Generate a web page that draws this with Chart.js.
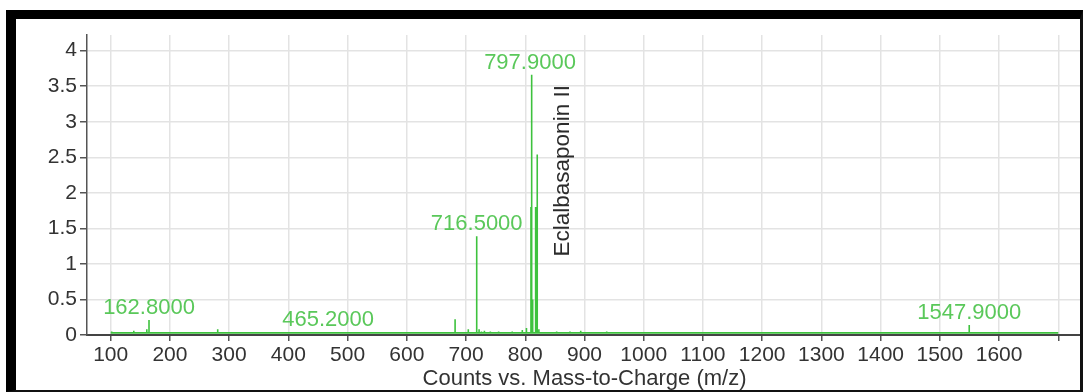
<!DOCTYPE html>
<html>
<head>
<meta charset="utf-8">
<script src="https://cdn.jsdelivr.net/npm/chart.js@4/dist/chart.umd.min.js"></script>
<style>
html, body { margin:0; padding:0; background:#fff; }
#wrap { position:relative; width:1085px; height:392px; }
#frame { position:absolute; left:6px; top:10px; width:1077px; height:382px; box-sizing:border-box;
  border-left:10px solid #000; border-top:9px solid #000; border-right:3px solid #111; border-bottom:2px solid #111;
  pointer-events:none; }
canvas { position:absolute; left:0; top:0; }
</style>
</head>
<body>
<div id="wrap">
  <canvas id="myChart" width="1085" height="392"></canvas>
  <div id="frame"></div>
</div>
<script>
// peaks (m/z, counts x10^?)
var peakMz  = [101.7, 129, 139, 161, 164.7, 280.7, 467, 681.5, 703.8, 718, 722, 726, 731, 736, 741, 748, 755, 762, 770, 778, 786, 795, 802, 809.6, 810.8, 812.5, 817.5, 820.2, 823, 853, 875.5, 893.6, 937.5, 1549.6];
var peakInt = [0.05, 0.04, 0.06, 0.08, 0.21, 0.08, 0.04, 0.22, 0.08, 1.39, 0.08, 0.05, 0.06, 0.04, 0.05, 0.04, 0.05, 0.03, 0.04, 0.05, 0.04, 0.07, 0.1, 1.8, 3.66, 0.5, 1.8, 2.54, 0.08, 0.05, 0.05, 0.06, 0.05, 0.14];
var baseline = 0.03;
var scanStart = 100, scanEnd = 1700;

var labelMz   = [164.7, 467, 718, 808, 1549.6];
var labelText = ['162.8000', '465.2000', '716.5000', '797.9000', '1547.9000'];

var xTicks = [100, 200, 300, 400, 500, 600, 700, 800, 900, 1000, 1100, 1200, 1300, 1400, 1500, 1600, 1700];
var xTickLabels = ['100', '200', '300', '400', '500', '600', '700', '800', '900', '1000', '1100', '1200', '1300', '1400', '1500', '1600', ''];
var yTicks = [0, 0.5, 1, 1.5, 2, 2.5, 3, 3.5, 4];
var yTickLabels = ['0', '0.5', '1', '1.5', '2', '2.5', '3', '3.5', '4'];

var compoundName = 'Eclalbasaponin II';

var FONT = 'Liberation Sans, Arial, Helvetica, sans-serif';
var GREEN = '#3ec23e';

// stick spectrum: each peak goes up and back down to the baseline
var pts = [{x: scanStart, y: baseline}];
for (var i = 0; i < peakMz.length; i++) {
	pts.push({x: peakMz[i], y: baseline});
	pts.push({x: peakMz[i], y: peakInt[i]});
	pts.push({x: peakMz[i], y: baseline});
}
pts.push({x: scanEnd, y: baseline});

function peakTop(mz)
{
	var best = baseline;
	for (var i = 0; i < peakMz.length; i++) {
		if (Math.abs(peakMz[i] - mz) <= 3 && peakInt[i] > best) best = peakInt[i];
	}
	return best;
}

var peakLabels = {
	id: 'peakLabels',
	afterDatasetsDraw: function(chart) {
		var c = chart.ctx, xs = chart.scales.x, ys = chart.scales.y;
		c.save();
		c.font = '22px ' + FONT;
		c.fillStyle = '#5ac85a';
		c.textAlign = 'center';
		c.textBaseline = 'alphabetic';
		for (var i = 0; i < labelMz.length; i++) {
			c.fillText(labelText[i], xs.getPixelForValue(labelMz[i]), ys.getPixelForValue(peakTop(labelMz[i])) - 6);
		}
		// compound name, rotated next to the base peak
		c.translate(xs.getPixelForValue(863), ys.getPixelForValue(2.31));
		c.rotate(-Math.PI / 2);
		c.font = '22.5px ' + FONT;
		c.fillStyle = '#2b2b2b';
		c.textBaseline = 'middle';
		c.fillText(compoundName, 0, 0);
		c.restore();
	}
};

var ctx = document.getElementById('myChart').getContext('2d');
var chart = new Chart(ctx, {
	type: 'scatter',
	data: {
		datasets: [{
			data: pts,
			showLine: true,
			borderColor: GREEN,
			borderWidth: 1.6,
			pointRadius: 0,
			tension: 0,
			fill: false
		}]
	},
	options: {
		responsive: false,
		animation: false,
		layout: { padding: { left: 0, right: 3, top: 35, bottom: 0 } },
		plugins: { legend: { display: false }, tooltip: { enabled: false } },
		scales: {
			x: {
				type: 'linear',
				min: 60,
				max: 1740,
				afterBuildTicks: function(s) { s.ticks = xTicks.map(function(v) { return {value: v}; }); },
				afterFit: function(s) { s.height = 57; },
				grid: { color: '#e3e3e3', lineWidth: 1.5, tickColor: '#555', tickLength: 6 },
				border: { color: '#444', width: 2 },
				ticks: {
					color: '#333', padding: 2, maxRotation: 0, autoSkip: false,
					font: { family: FONT, size: 21 },
					callback: function(v, i) { return xTickLabels[i]; }
				},
				title: {
					display: true, text: 'Counts vs. Mass-to-Charge (m/z)', color: '#333',
					font: { family: FONT, size: 22 }, padding: 0
				}
			},
			y: {
				min: 0,
				max: 4.22,
				afterBuildTicks: function(s) { s.ticks = yTicks.map(function(v) { return {value: v}; }); },
				afterFit: function(s) { s.width = 87; },
				grid: { color: '#e3e3e3', lineWidth: 1.5, tickColor: '#555', tickLength: 7 },
				border: { color: '#555', width: 1.5 },
				ticks: {
					color: '#333', padding: 3,
					font: { family: FONT, size: 21 },
					callback: function(v, i) { return yTickLabels[i]; }
				}
			}
		}
	},
	plugins: [peakLabels]
});
</script>
</body>
</html>
